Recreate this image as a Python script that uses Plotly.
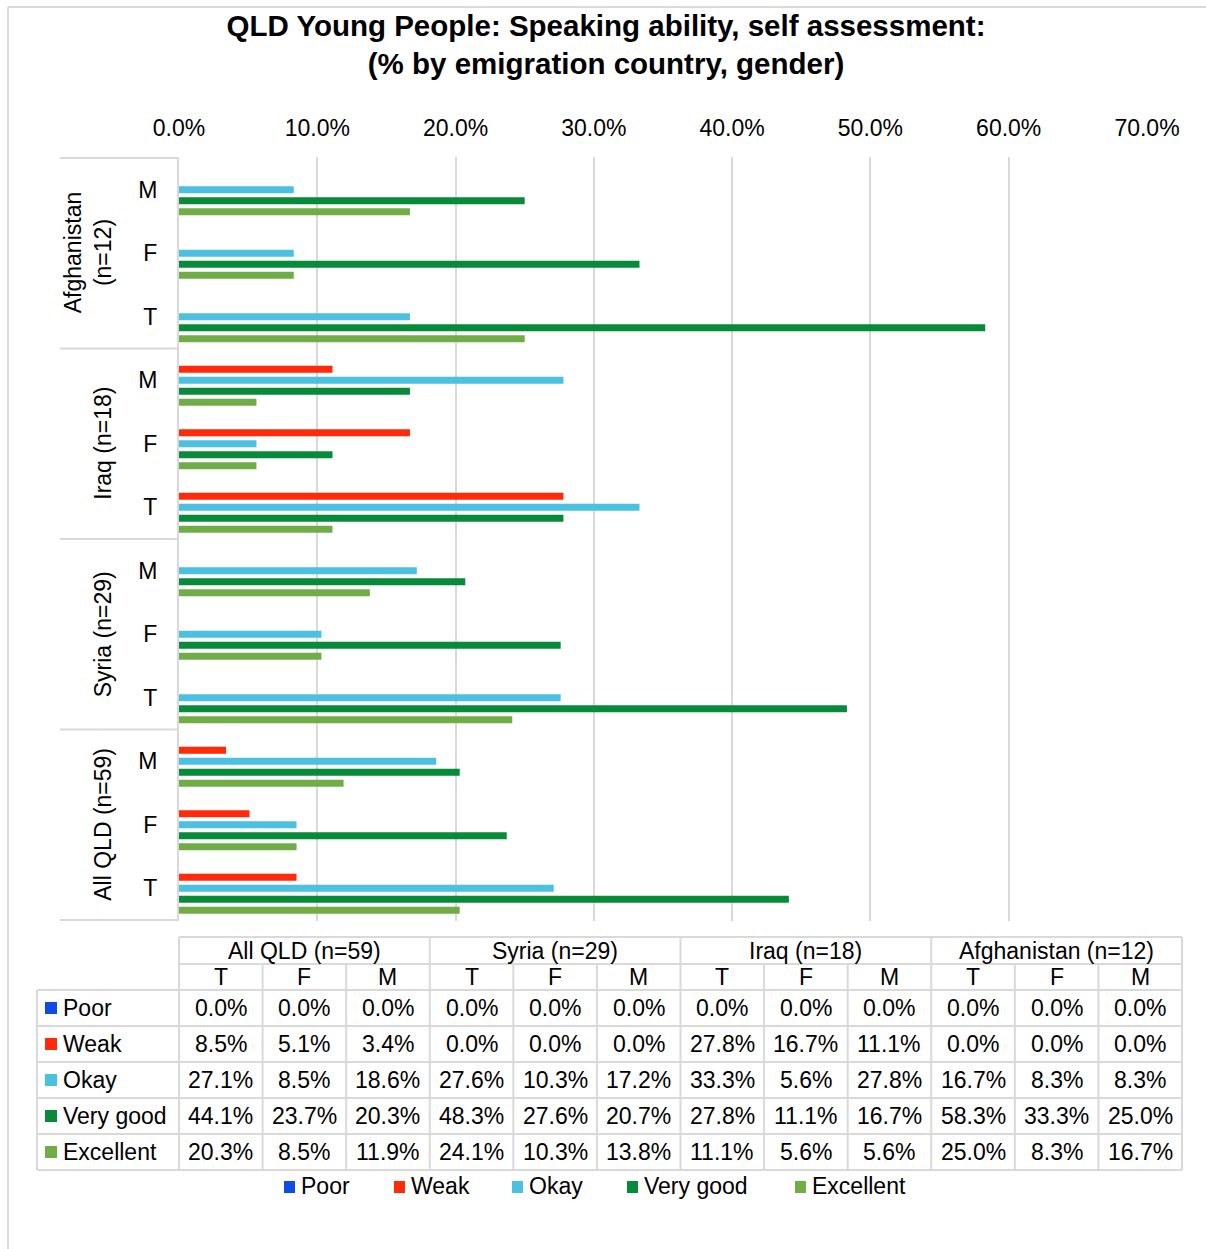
import plotly.graph_objects as go

# ---------------- data ----------------
groups = ["All QLD (n=59)", "Syria (n=29)", "Iraq (n=18)", "Afghanistan (n=12)"]
genders = ["T", "F", "M"]
series = ["Poor", "Weak", "Okay", "Very good", "Excellent"]
colors = ["#0F4BE6", "#FF2A0A", "#4BC0E0", "#078A3A", "#70AD47"]

# values in %, table order: All QLD T,F,M | Syria T,F,M | Iraq T,F,M | Afghanistan T,F,M
poor = [0.0, 0.0, 0.0, 0.0, 0.0, 0.0, 0.0, 0.0, 0.0, 0.0, 0.0, 0.0]
weak = [8.5, 5.1, 3.4, 0.0, 0.0, 0.0, 27.8, 16.7, 11.1, 0.0, 0.0, 0.0]
okay = [27.1, 8.5, 18.6, 27.6, 10.3, 17.2, 33.3, 5.6, 27.8, 16.7, 8.3, 8.3]
very_good = [44.1, 23.7, 20.3, 48.3, 27.6, 20.7, 27.8, 11.1, 16.7, 58.3, 33.3, 25.0]
excellent = [20.3, 8.5, 11.9, 24.1, 10.3, 13.8, 11.1, 5.6, 5.6, 25.0, 8.3, 16.7]
values = [poor, weak, okay, very_good, excellent]

x_ticks = [0, 10, 20, 30, 40, 50, 60, 70]
title = "QLD Young People: Speaking ability, self assessment:<br>(% by emigration country, gender)"

# ---------------- layout helpers (pixel -> paper) ----------------
W, H = 1206, 1249
ML, MR, MT, MB = 179, 59, 157, 328
PW, PH = W - ML - MR, H - MT - MB
FONT = "Liberation Sans, Arial, sans-serif"
GRID = "#d9d9d9"


def px(X):
    return (X - ML) / PW


def py(Y):
    return (H - MB - Y) / PH


cats = [f"{g}|{s}" for g in groups for s in genders]  # table order
chart_order = cats[::-1]  # top-to-bottom on the chart

fig = go.Figure()
for name, vals, col in zip(series, values, colors):
    fig.add_bar(y=cats, x=vals, orientation="h", name=name,
                marker=dict(color=col, line=dict(width=0)), showlegend=False,
                hovertemplate="%{y}: %{x:.1f}%<extra>" + name + "</extra>")

shapes = []
annotations = []


def line(x0, y0, x1, y1, color=GRID, width=2):
    shapes.append(dict(type="line", xref="paper", yref="paper",
                       x0=px(x0), y0=py(y0), x1=px(x1), y1=py(y1),
                       line=dict(color=color, width=width)))


def text(X, Y, s, anchor="center", size=23, **kw):
    annotations.append(dict(xref="paper", yref="paper", x=px(X), y=py(Y), text=s,
                            showarrow=False, xanchor=anchor, yanchor="middle",
                            font=dict(family=FONT, size=size, color="#000"), **kw))


# outer frame (left & top edges visible)
line(8, 7, 8, H)
line(8, 7, W, 7)

# y-axis group separators
n_per = len(genders)
for k in range(len(groups) + 1):
    yb = k * n_per - 0.5
    shapes.append(dict(type="line", xref="paper", yref="y", x0=px(60), x1=0,
                       y0=yb, y1=yb, line=dict(color=GRID, width=2)))

# group labels (rotated)
for g in groups:
    lab = g.replace(" (", "<br>(") if len(g) > 14 else g
    annotations.append(dict(xref="paper", yref="y", x=px(118), y=f"{g}|F", text=lab,
                            showarrow=False, xanchor="right", yanchor="middle",
                            textangle=-90,
                            font=dict(family=FONT, size=23, color="#000")))

# ---------------- data table ----------------
T_LEFT, C0 = 37, 179
T_RIGHT = 1182
CW = (T_RIGHT - C0) / len(cats)
R_H1, R_H2, R_D0 = 937, 964, 990
RH = 36
n_rows = len(series)
R_END = R_D0 + RH * n_rows

col_x = [C0 + i * CW for i in range(len(cats) + 1)]
# header row 1 (groups)
line(C0, R_H1, T_RIGHT, R_H1)
for i in range(0, len(cats) + 1, n_per):
    line(col_x[i], R_H1, col_x[i], R_H2)
for gi, g in enumerate(groups):
    text((col_x[gi * n_per] + col_x[gi * n_per + n_per]) / 2, (R_H1 + R_H2) / 2, g)
# header row 2 (genders)
line(C0, R_H2, T_RIGHT, R_H2)
for i in range(len(cats) + 1):
    line(col_x[i], R_H2, col_x[i], R_D0)
for ci, c in enumerate(cats):
    text((col_x[ci] + col_x[ci + 1]) / 2, (R_H2 + R_D0) / 2, c.split("|")[1])
# data rows
for r in range(n_rows + 1):
    line(T_LEFT, R_D0 + r * RH, T_RIGHT, R_D0 + r * RH)
line(T_LEFT, R_D0, T_LEFT, R_END)
for i in range(len(cats) + 1):
    line(col_x[i], R_D0, col_x[i], R_END)
for r, (name, vals, col) in enumerate(zip(series, values, colors)):
    yc = R_D0 + r * RH + RH / 2
    shapes.append(dict(type="rect", xref="paper", yref="paper",
                       x0=px(45), x1=px(57), y0=py(yc - 6), y1=py(yc + 6),
                       fillcolor=col, line=dict(width=0)))
    text(61, yc, name, anchor="left")
    for ci, v in enumerate(vals):
        text((col_x[ci] + col_x[ci + 1]) / 2, yc, f"{v:.1f}%")

# ---------------- bottom legend ----------------
leg_x = [284, 394, 512, 627, 795]
leg_y = 1187
for name, col, lx in zip(series, colors, leg_x):
    shapes.append(dict(type="rect", xref="paper", yref="paper",
                       x0=px(lx), x1=px(lx + 11), y0=py(leg_y - 6), y1=py(leg_y + 6),
                       fillcolor=col, line=dict(width=0)))
    text(lx + 15, leg_y - 1, name, anchor="left")

fig.update_layout(
    width=W, height=H,
    margin=dict(l=ML, r=MR, t=MT, b=MB, pad=0),
    paper_bgcolor="white", plot_bgcolor="white",
    font=dict(family=FONT, size=23, color="#000"),
    title=dict(text="<b>" + title.replace("<br>", "</b><br><b>") + "</b>",
               x=606 / W, xref="container", xanchor="center",
               y=1 - 36 / H, yref="container", yanchor="middle",
               font=dict(family=FONT, size=29.5, color="#000")),
    barmode="group", bargap=0.136, bargroupgap=0.36,
    xaxis=dict(side="top", range=[0, 70], tickvals=x_ticks,
               ticktext=[f"{t:.1f}%" for t in x_ticks],
               showgrid=True, gridcolor=GRID, gridwidth=2, zeroline=False,
               showline=False, ticks="", ticklabelstandoff=15,
               tickfont=dict(family=FONT, size=23, color="#000"), fixedrange=True),
    yaxis=dict(type="category", categoryorder="array", categoryarray=chart_order,
               autorange="reversed", tickvals=cats,
               ticktext=[c.split("|")[1] for c in cats],
               showgrid=False, zeroline=False, showline=True, linecolor=GRID, linewidth=2,
               ticks="", ticklabelstandoff=15,
               tickfont=dict(family=FONT, size=23, color="#000"), fixedrange=True),
    shapes=shapes, annotations=annotations,
)

fig.write_html("out.html", config={"displayModeBar": False},
               post_script="document.body.style.margin='0';document.body.style.overflow='hidden';")
